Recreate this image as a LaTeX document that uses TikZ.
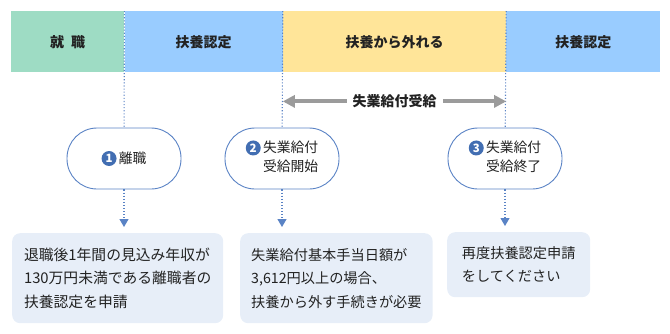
\documentclass[tikz,border=0pt]{standalone}
\usepackage{fontspec}
\setmainfont{Noto Sans CJK JP}
\usetikzlibrary{positioning, calc, arrows.meta}
\definecolor{bandgreen}{RGB}{158, 220, 196}
\definecolor{bandblue}{RGB}{153, 204, 255}
\definecolor{bandyellow}{RGB}{255, 229, 153}
\definecolor{pillblue}{RGB}{90, 131, 197}
\definecolor{numblue}{RGB}{66, 110, 178}
\definecolor{notefill}{RGB}{231, 238, 248}
\definecolor{kyufugray}{RGB}{155, 155, 155}
\definecolor{inkgray}{RGB}{34, 34, 34}

\newcommand{\numdot}[1]{\tikz[baseline=-0.36em]\node[circle, fill=numblue, text=white, inner sep=0pt, minimum size=15pt, font=\fontsize{11.5}{11.5}\selectfont\bfseries]{#1};}

\begin{document}
\begin{tikzpicture}[x=1pt, y=-1pt, every node/.style={font=\fontsize{14}{16}\selectfont, text=inkgray}]
    \tikzstyle{band} = [rectangle, minimum height=61pt, inner sep=0pt, anchor=north west, font=\fontsize{14}{16}\selectfont\bfseries]
    \tikzstyle{pill} = [draw=pillblue, rectangle, rounded corners=30pt, minimum width=114pt, minimum height=61pt, line width=0.9pt, fill=white, font=\fontsize{13.8}{18.5}\selectfont]
    \tikzstyle{note} = [rectangle, fill=notefill, rounded corners=8pt, anchor=north west, align=left, inner xsep=11pt, font=\fontsize{14.2}{23.5}\selectfont]
    \tikzstyle{guide} = [dash pattern=on 1.1pt off 2pt, draw=pillblue, line width=1.1pt]
    \tikzstyle{drop} = [guide, -{Triangle[length=8pt, width=9pt]}, shorten >=6pt]
    \tikzstyle{kyufu} = [line width=4pt, draw=kyufugray, {Triangle[length=12pt, width=12pt]}-{Triangle[length=12pt, width=12pt]}]

    \useasboundingbox (0,0) rectangle (670,333);

    % Status band
    \node (shushoku) [band, fill=bandgreen, minimum width=113pt] at (11,11) {就\hspace{0.5em}職};
    \node (fuyo1) [band, fill=bandblue, minimum width=158pt, right=0pt of shushoku] {扶養認定};
    \node (hazure) [band, fill=bandyellow, minimum width=223pt, right=0pt of fuyo1] {扶養から外れる};
    \node (fuyo2) [band, fill=bandblue, minimum width=154pt, right=0pt of hazure] {扶養認定};

    % Events
    \node (rishoku) [pill] at (124,158.5) {\numdot{1}\,離職};
    \node (kaishi) [pill] at (282,158.5) {\numdot{2}\,\begin{tabular}[t]{@{}l@{}}失業給付\\受給開始\end{tabular}};
    \node (shuryo) [pill] at (505,158.5) {\numdot{3}\,\begin{tabular}[t]{@{}l@{}}失業給付\\受給終了\end{tabular}};

    % Notes
    \node (taikan) [note, minimum width=211pt, minimum height=90pt, font=\fontsize{14.8}{23.5}\selectfont] at (12,233) {退職後1年間の見込み年収が\\130万円未満である離職者の\\扶養認定を申請};
    \node (tetsuzuki) [note, minimum width=190pt, minimum height=90pt] at (240,233) {失業給付基本手当日額が\\3,612円以上の場合、\\扶養から外す手続きが必要};
    \node (saido) [note, minimum width=143pt, minimum height=65pt] at (447,232) {再度扶養認定申請\\をしてください};

    % Guides
    \draw [guide] (shushoku.north east) -- (rishoku);
    \draw [guide] (fuyo1.north east) -- (kaishi);
    \draw [guide] (hazure.north east) -- (shuryo);
    \draw [drop] (rishoku.south) -- (rishoku.south |- taikan.north);
    \draw [drop] (kaishi.south) -- (kaishi.south |- tetsuzuki.north);
    \draw [drop] (shuryo.south) -- (shuryo.south |- saido.north);

    % Benefit period
    \coordinate (kyufuL) at ($(hazure.south west)+(0,29)$);
    \coordinate (kyufuR) at ($(hazure.south east)+(0,29)$);
    \draw [kyufu] (kyufuL) -- (kyufuR) node [midway, fill=white, inner xsep=6pt, font=\fontsize{14}{16}\selectfont\bfseries] (kyufulabel) {失業給付受給};
\end{tikzpicture}
\end{document}
